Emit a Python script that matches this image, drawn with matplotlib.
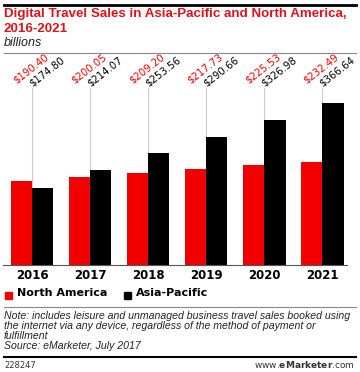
import numpy as np
import matplotlib
matplotlib.use("Agg")
import matplotlib.pyplot as plt
from matplotlib.patches import Rectangle

years = ["2016", "2017", "2018", "2019", "2020", "2021"]
north_america = [190.40, 200.05, 209.20, 217.73, 225.53, 232.49]
asia_pacific = [174.80, 214.07, 253.56, 290.66, 326.98, 366.64]

RED = "#f20000"
TITLE_RED = "#e0121b"
W, H = 360, 372

fig = plt.figure(figsize=(W / 100, H / 100), dpi=100)

def fx(px):
    return px / W

def fy(py):
    return 1 - py / H

# axes: x from 3 to 347 px, y from 60 to 265 px
ax = fig.add_axes([fx(3), fy(265), fx(344), (265 - 60) / H])
x = np.arange(len(years))
bw = 0.37
ax.bar(x - bw / 2, north_america, bw, color=RED, label="North America")
ax.bar(x + bw / 2, asia_pacific, bw, color="black", label="Asia-Pacific")
ax.set_xlim(-0.5, 5.43)
ymax = 205 / 0.442
ax.set_ylim(0, ymax)
for s in ["top", "right", "left"]:
    ax.spines[s].set_visible(False)
ax.spines["bottom"].set_color("#555555")
ax.spines["bottom"].set_linewidth(0.8)
ax.set_yticks([])
ax.set_xticks(x)
ax.set_xticklabels(years, fontweight="bold", fontsize=8.5)
ax.tick_params(axis="x", length=0, pad=3)

# connector lines and value labels
ytop = (265 - 88) / 0.442
for i in range(len(years)):
    ax.plot([i, i], [0, ytop], color="#cccccc", lw=0.8, zorder=0)
    ax.text(i - 0.25, ytop + 7, "$%.2f" % north_america[i], color=RED, fontsize=7.3,
            rotation=38, rotation_mode="anchor", ha="left", va="bottom")
    ax.text(i + 0.02, ytop, "$%.2f" % asia_pacific[i], color="black", fontsize=7.3,
            rotation=38, rotation_mode="anchor", ha="left", va="bottom")

# header
fig.add_artist(plt.Line2D([fx(4), fx(356)], [fy(5), fy(5)], color="black", lw=2))
fig.text(fx(4), fy(8), "Digital Travel Sales in Asia-Pacific and North America,\n2016-2021",
         color=TITLE_RED, fontsize=9.6, fontweight="bold", va="top", linespacing=1.38,
         family="Liberation Sans")
fig.text(fx(4), fy(43), "billions", fontsize=9, style="italic", va="center", color="#222222",
         family="Liberation Sans")
fig.add_artist(plt.Line2D([fx(4), fx(356)], [fy(53), fy(53)], color="#888888", lw=0.8))

# legend
fig.add_artist(Rectangle((fx(5), fy(299)), fx(7), 7 / H, color=RED))
fig.text(fx(17), fy(293), "North America", fontsize=8, fontweight="bold", va="center")
fig.add_artist(Rectangle((fx(124), fy(299)), fx(7), 7 / H, color="black"))
fig.text(fx(136), fy(293), "Asia-Pacific", fontsize=8, fontweight="bold", va="center")

# notes
fig.add_artist(plt.Line2D([fx(4), fx(356)], [fy(307), fy(307)], color="#888888", lw=0.8))
fig.text(fx(4), fy(311), "Note: includes leisure and unmanaged business travel sales booked using\n"
         "the internet via any device, regardless of the method of payment or\n"
         "fulfillment\nSource: eMarketer, July 2017",
         fontsize=7.6, style="italic", va="top", linespacing=1.02, color="#222222",
         family="Liberation Sans")
fig.add_artist(plt.Line2D([fx(4), fx(356)], [fy(357), fy(357)], color="black", lw=1.5))
fig.text(fx(4), fy(365), "228247", fontsize=6, va="center", color="#333333")
fig.text(fx(355), fy(365), r"www.$\bf{eMarketer}$.com", fontsize=6.5, va="center", ha="right",
         color="#333333")

fig.savefig("out.png", dpi=100)
